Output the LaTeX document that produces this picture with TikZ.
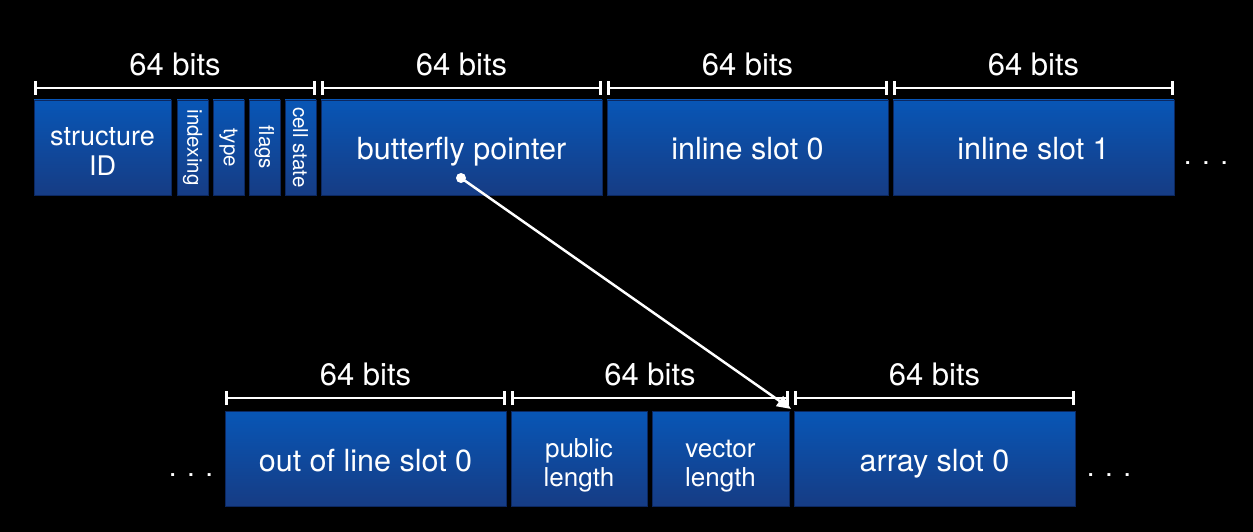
\documentclass[tikz,border=0pt]{standalone}
\usepackage{fontspec}
\setmainfont{TeX Gyre Heros}
\usetikzlibrary{positioning, arrows.meta}
\definecolor{slottop}{RGB}{8,86,182}
\definecolor{slotbot}{RGB}{22,60,132}
\definecolor{slotedge}{RGB}{12,40,96}

\begin{document}
\begin{tikzpicture}[
  x=1pt, y=-1pt,
  node distance=5pt,
  slot/.style={draw=slotedge, line width=0.6pt, outer sep=0pt, top color=slottop, bottom color=slotbot, text=white, align=center, font=\fontsize{27}{30}\selectfont, minimum height=95pt, inner sep=0pt},
  wide/.style={slot, minimum width=281pt, font=\fontsize{30.5}{32}\selectfont, text height=28pt, text depth=3pt},
  half/.style={slot, minimum width=136pt, font=\fontsize{26}{29}\selectfont, text height=58pt, text depth=3pt},
  thin/.style={slot, minimum width=31pt, font=\fontsize{20.5}{21}\selectfont},
  span/.style={draw=white, line width=2.5pt, {Bar[width=14pt,line width=3pt]}-{Bar[width=14pt,line width=3pt]}},
  bits/.style={text=white, font=\fontsize{31}{32}\selectfont, above=7pt},
  more/.style={text=white, font=\fontsize{28}{30}\selectfont, inner sep=0pt},
  link/.style={draw=white, line width=2.5pt, -{Triangle[length=14pt,width=12pt]}}
]
\fill[black] (0,0) rectangle (1253,532);
\useasboundingbox (0,0) rectangle (1253,532);

% header word
\node[slot, minimum width=137pt, text height=55.5pt, text depth=0pt, anchor=north west] (sid) at (34,100) {structure\\ID};
\node[thin, right=6pt of sid] (idx) {\rotatebox{-90}{indexing}};
\node[thin, right=of idx] (typ) {\rotatebox{-90}{type}};
\node[thin, right=of typ] (flg) {\rotatebox{-90}{flags}};
\node[thin, right=of flg] (cst) {\rotatebox{-90}{cell state}};
\node[wide, right=of cst] (bfly) {butterfly pointer};
\node[wide, right=of bfly] (inl0) {inline slot 0};
\node[wide, right=of inl0] (inl1) {inline slot 1};
\node[more] (tdots) at (1206,163) {. . .};

% butterfly
\node[wide, anchor=north west] (ool0) at (225,411) {out of line slot 0};
\node[half, right=of ool0] (plen) {public\\length};
\node[half, minimum width=137pt, right=of plen] (vlen) {vector\\length};
\node[wide, right=of vlen] (arr0) {array slot 0};
\node[more] (ldots) at (191,475) {. . .};
\node[more] (rdots) at (1109,475) {. . .};

% widths
\draw[span] ([yshift=12pt]sid.north west) -- ([yshift=12pt]cst.north east) node[midway, bits] {64 bits};
\draw[span] ([yshift=12pt]bfly.north west) -- ([yshift=12pt]bfly.north east) node[midway, bits] {64 bits};
\draw[span] ([yshift=12pt]inl0.north west) -- ([yshift=12pt]inl0.north east) node[midway, bits] {64 bits};
\draw[span] ([yshift=12pt]inl1.north west) -- ([yshift=12pt]inl1.north east) node[midway, bits] {64 bits};
\draw[span] ([yshift=13pt]ool0.north west) -- ([yshift=13pt]ool0.north east) node[midway, bits] {64 bits};
\draw[span] ([yshift=13pt]plen.north west) -- ([yshift=13pt]vlen.north east) node[midway, bits] {64 bits};
\draw[span] ([yshift=13pt]arr0.north west) -- ([yshift=13pt]arr0.north east) node[midway, bits] {64 bits};

% pointer
\node[circle, fill=white, inner sep=0pt, minimum size=10pt] (ptr) at (461,178) {};
\coordinate (tip) at (791,409);
\draw[link] (ptr.center) -- (tip);
\end{tikzpicture}
\end{document}
